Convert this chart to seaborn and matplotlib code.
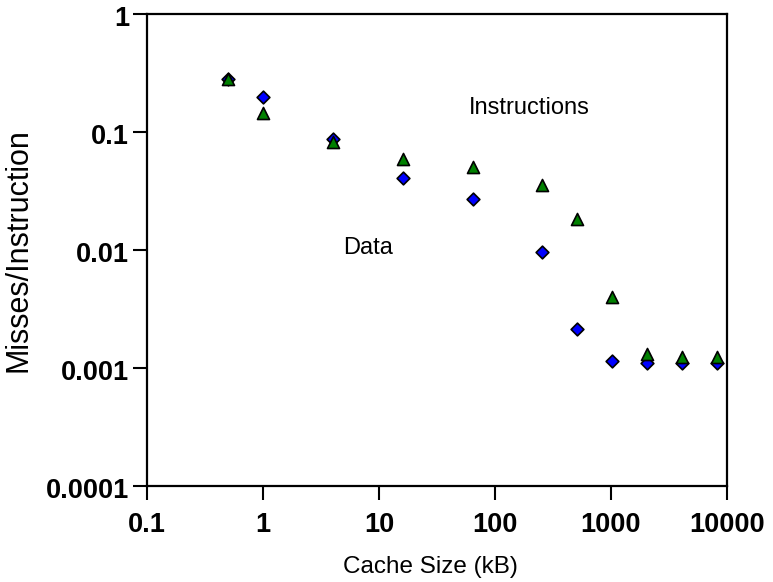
import numpy as np
import pandas as pd
import seaborn as sns
import matplotlib
matplotlib.use("Agg")
import matplotlib.pyplot as plt
from matplotlib.ticker import FixedLocator, FixedFormatter, NullLocator
from matplotlib.transforms import ScaledTranslation

# Cache sizes in kB
cache_kb = [0.5, 1, 4, 16, 64, 256, 512, 1024, 2048, 4096, 8192]
# Misses per instruction
data_misses = [0.28, 0.198, 0.087, 0.041, 0.027, 0.0096, 0.00214, 0.00115, 0.0011, 0.0011, 0.0011]
instr_misses = [0.28, 0.145, 0.082, 0.059, 0.0505, 0.0356, 0.0183, 0.0040, 0.00131, 0.00124, 0.00124]

x_ticks = [0.1, 1, 10, 100, 1000, 10000]
x_tick_labels = ["0.1", "1", "10", "100", "1000", "10000"]
y_ticks = [0.0001, 0.001, 0.01, 0.1, 1]
y_tick_labels = ["0.0001", "0.001", "0.01", "0.1", "1"]

df_data = pd.DataFrame({"size": cache_kb, "misses": data_misses})
df_instr = pd.DataFrame({"size": cache_kb, "misses": instr_misses})

sns.set_theme(style="white")
plt.rcParams["font.family"] = ["Liberation Sans", "DejaVu Sans"]
plt.rcParams["text.color"] = "black"
plt.rcParams["axes.labelcolor"] = "black"
plt.rcParams["xtick.color"] = "black"
plt.rcParams["ytick.color"] = "black"

fig = plt.figure(figsize=(7.73, 5.82), dpi=100)
ax = fig.add_axes([147 / 773, 1 - 486 / 582, 580 / 773, 472 / 582])

sns.scatterplot(data=df_data, x="size", y="misses", marker="D", s=42,
                color="#0000ff", edgecolor="black", linewidth=1.2, ax=ax, zorder=3)
sns.scatterplot(data=df_instr, x="size", y="misses", marker="^", s=75,
                color="#008000", edgecolor="black", linewidth=1.2, ax=ax, zorder=4)

ax.set_xscale("log")
ax.set_yscale("log")
ax.set_xlim(0.1, 10000)
ax.set_ylim(0.0001, 1)

ax.xaxis.set_major_locator(FixedLocator(x_ticks))
ax.xaxis.set_major_formatter(FixedFormatter(x_tick_labels))
ax.yaxis.set_major_locator(FixedLocator(y_ticks))
ax.yaxis.set_major_formatter(FixedFormatter(y_tick_labels))
ax.xaxis.set_minor_locator(NullLocator())
ax.yaxis.set_minor_locator(NullLocator())

ax.tick_params(axis="both", which="major", direction="out", length=10, width=1.5,
               color="black", labelcolor="black", labelsize=19.5, left=True, bottom=True)
ax.tick_params(axis="x", pad=9)
ax.tick_params(axis="y", pad=3)
shift_down = ScaledTranslation(0, -2.5 / 100, fig.dpi_scale_trans)
for lbl in ax.get_yticklabels():
    lbl.set_transform(lbl.get_transform() + shift_down)
for lbl in ax.get_xticklabels() + ax.get_yticklabels():
    lbl.set_fontweight("bold")

for side in ["left", "bottom", "top", "right"]:
    ax.spines[side].set_visible(True)
    ax.spines[side].set_color("black")
    ax.spines[side].set_linewidth(1.6)

ax.set_xlabel("Cache Size (kB)", fontsize=17.5, labelpad=13, color="black")
ax.xaxis.label.set_x(0.488)
ax.set_ylabel("Misses/Instruction", fontsize=22, labelpad=9, color="black")

ax.text(196, 0.16, "Instructions", fontsize=17, ha="center", va="center", color="black")
ax.text(8.0, 0.0104, "Data", fontsize=17, ha="center", va="center", color="black")

fig.savefig("out.png", dpi=100)
